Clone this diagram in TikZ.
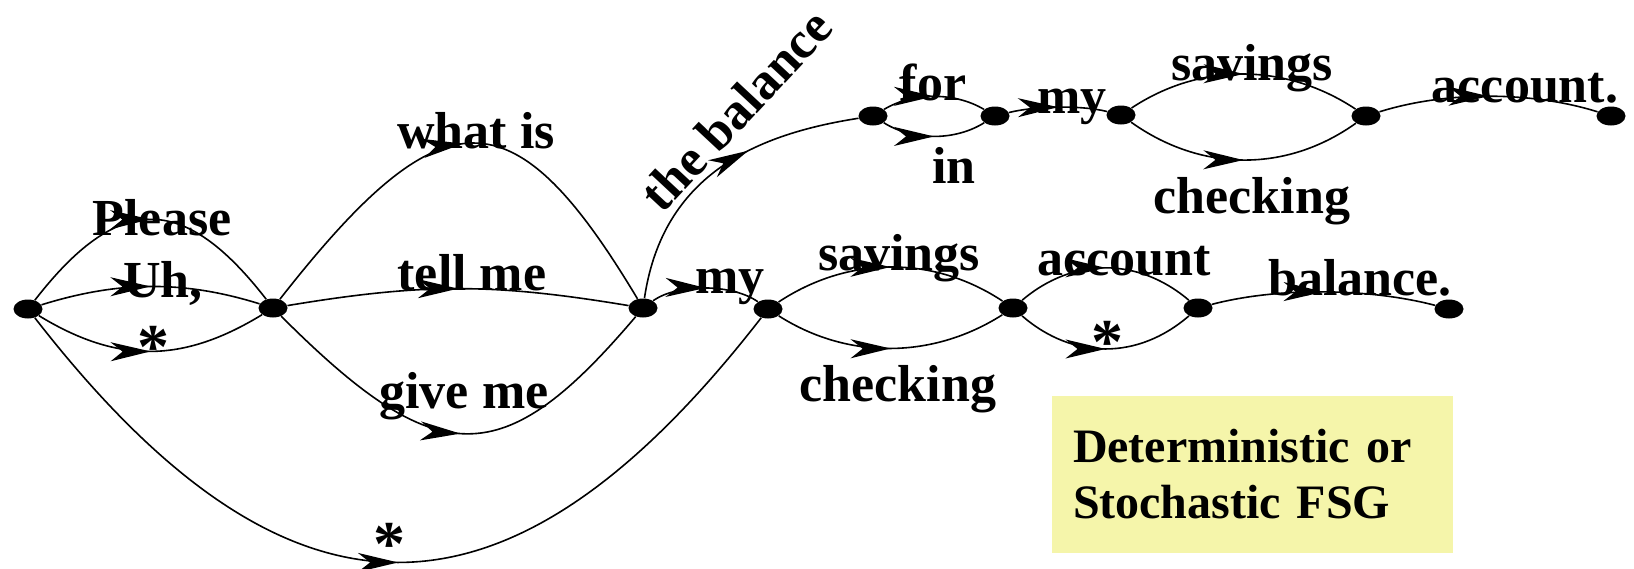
\documentclass[tikz,border=0pt]{standalone}
\usepackage{fontspec}
\setmainfont{Liberation Serif}
\usetikzlibrary{arrows.meta,shapes.geometric,decorations.markings}
\definecolor{lightyellow}{RGB}{245,245,170}

\begin{document}
\begin{tikzpicture}[
    x=0.5pt, y=-0.5pt,
    statedot/.style={ellipse, fill=black, minimum width=14.5pt, minimum height=9.5pt, inner sep=0pt},
    trans/.style={line width=0.8pt, postaction={decorate},
        decoration={markings, mark=at position #1 with {\arrow{Stealth[length=20pt, width=9.5pt, inset=6pt]}}}},
    trans/.default=0.5,
    word/.style={anchor=base, inner sep=0pt, font=\fontsize{26}{30}\selectfont\bfseries},
    anyword/.style={word, font=\fontsize{32}{36}\selectfont\bfseries},
    fsgbox/.style={fill=lightyellow, minimum width=200.5pt, minimum height=78.5pt, text width=179.5pt,
        inner xsep=10.5pt, align=left, font=\fontsize{24}{28}\selectfont\bfseries}
]
    \useasboundingbox (0,0) rectangle (1634,568);

    % States, lower path
    \node[statedot] (q0) at (28,309) {};
    \node[statedot] (q1) at (273,308) {};
    \node[statedot] (q2) at (643,308) {};
    \node[statedot] (q3) at (768,309) {};
    \node[statedot] (q4) at (1013,308) {};
    \node[statedot] (q5) at (1198,308) {};
    \node[statedot] (q6) at (1449,309) {};
    % States, upper path
    \node[statedot] (q7) at (873,116) {};
    \node[statedot] (q8) at (995,116) {};
    \node[statedot] (q9) at (1121,115) {};
    \node[statedot] (q10) at (1366,116) {};
    \node[statedot] (q11) at (1611,116) {};

    % Opening words
    \draw[trans] (q0) .. controls +(90,-116) and +(-90,-116) .. (q1);
    \draw[trans] (q0) .. controls +(90,-28) and +(-90,-28) .. (q1);
    \draw[trans] (q0) .. controls +(90,55) and +(-90,55) .. (q1);
    \draw[trans] (q0) .. controls +(260,335) and +(-260,335) .. (q3);
    \node[word] (wplease) at (162,235) {Please};
    \node[word] (wuh) at (163,297) {Uh,};
    \node[anyword] (wany1) at (153,368) {*};
    \node[anyword] (wany2) at (389,565) {*};

    % Request
    \draw[trans] (q1) .. controls +(170,-217) and +(-130,-217) .. (q2);
    \draw[trans] (q1) .. controls +(150,-25) and +(-150,-25) .. (q2);
    \draw[trans] (q1) .. controls +(165,165) and +(-140,165) .. (q2);
    \node[word] (wwhat) at (476,148) {what is};
    \node[word] (wtell) at (472,290) {tell me};
    \node[word] (wgive) at (464,408) {give me};

    % the balance for/in my savings/checking account.
    \draw[trans=0.62] (q2) .. controls +(20,-135) and +(-115,18) .. (q7);
    \draw[trans] (q7) .. controls +(40,-24) and +(-40,-24) .. (q8);
    \draw[trans] (q7) .. controls +(40,25) and +(-40,25) .. (q8);
    \draw[trans] (q8) .. controls +(40,-10) and +(-40,-10) .. (q9);
    \draw[trans] (q9) .. controls +(80,-53) and +(-80,-53) .. (q10);
    \draw[trans] (q9) .. controls +(80,57) and +(-80,57) .. (q10);
    \draw[trans] (q10) .. controls +(80,-25) and +(-80,-25) .. (q11);
    \node[word, anchor=center, rotate=47] (wbal) at (736,110) {the balance};
    \node[word] (wfor) at (933,100) {for};
    \node[word] (win) at (954,183) {in};
    \node[word] (wmy1) at (1072,113) {my};
    \node[word] (wsav1) at (1252,80) {savings};
    \node[word] (wchk1) at (1252,213) {checking};
    \node[word] (wacc1) at (1525,102) {account.};

    % my savings/checking account/* balance.
    \draw[trans] (q2) .. controls +(35,-25) and +(-35,-25) .. (q3);
    \draw[trans] (q3) .. controls +(80,-53) and +(-80,-53) .. (q4);
    \draw[trans] (q3) .. controls +(80,51) and +(-80,51) .. (q4);
    \draw[trans] (q4) .. controls +(60,-51) and +(-60,-51) .. (q5);
    \draw[trans] (q4) .. controls +(60,52) and +(-60,52) .. (q5);
    \draw[trans] (q5) .. controls +(80,-21) and +(-80,-21) .. (q6);
    \node[word] (wmy2) at (730,293) {my};
    \node[word] (wsav2) at (899,270) {savings};
    \node[word] (wchk2) at (898,401) {checking};
    \node[word] (wacc2) at (1124,275) {account};
    \node[anyword] (wany3) at (1107,363) {*};
    \node[word] (wbal2) at (1360,295) {balance.};

    % Caption box
    \node[fsgbox] (fsg) at (1252.5,474.5) {Deterministic or\\Stochastic FSG};
\end{tikzpicture}
\end{document}
